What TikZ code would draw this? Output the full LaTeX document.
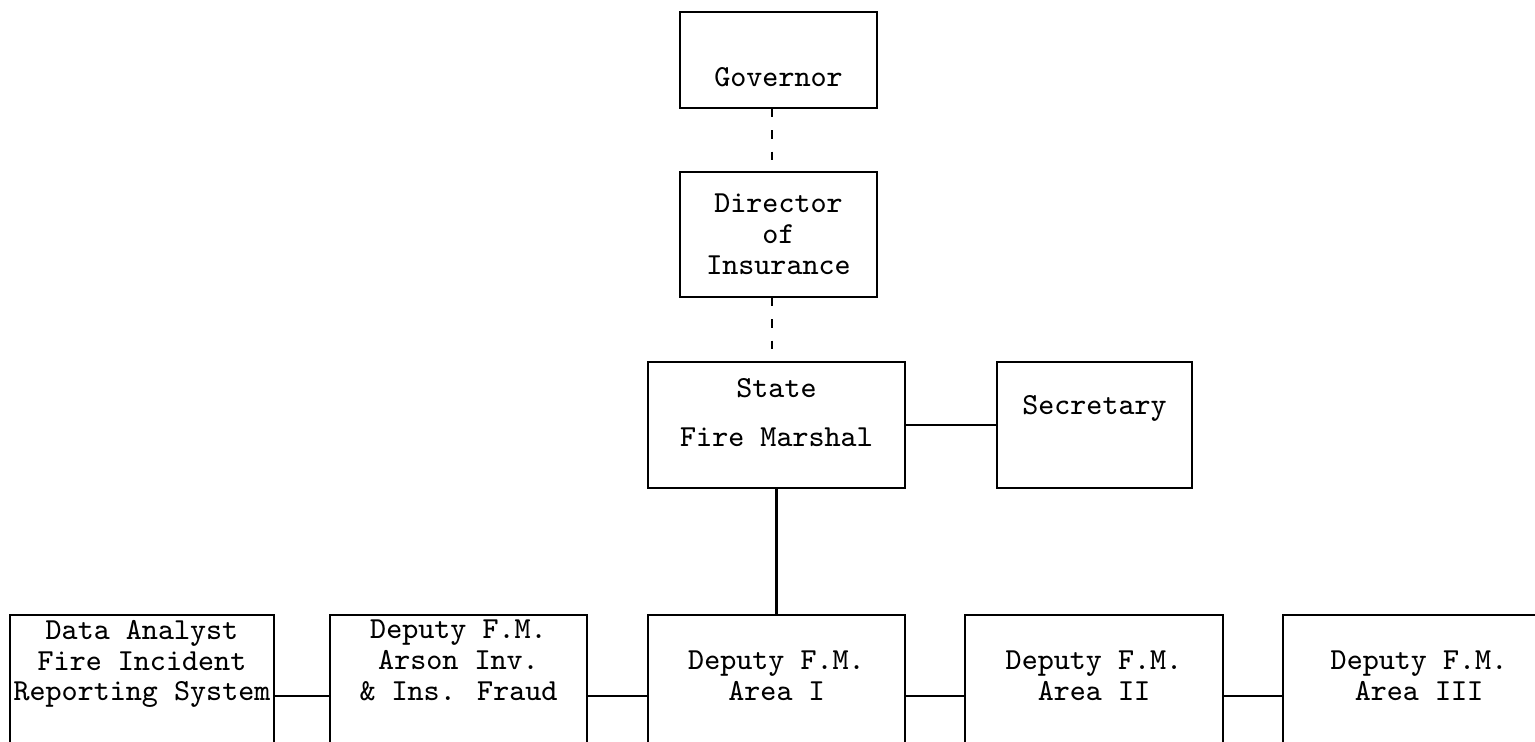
\documentclass[tikz,border=0pt]{standalone}
\usetikzlibrary{positioning}

\begin{document}
\begin{tikzpicture}[
		orgbox/.style = {draw, line width=0.75pt, align=center, inner sep=1pt,
			font=\ttfamily\fontsize{8.7}{8.8}\selectfont},
		rowbox/.style = {orgbox, minimum height=1.62cm},
		link/.style = {line width=0.75pt},
		staff/.style = {line width=0.75pt, dash pattern=on 2.3pt off 3.7pt}
	]
		\useasboundingbox (0,0) rectangle (15.35,-7.41);
		% chain of command
		\node [orgbox, minimum width=1.97cm, minimum height=0.96cm] (gov) at (7.785,-0.60) {\strut\\Governor};
		\node [orgbox, minimum width=1.97cm, minimum height=1.25cm] (dir) at (7.785,-2.345) {Director\\of\\Insurance};
		\node [orgbox, minimum width=2.57cm, minimum height=1.26cm] (sfm) at (7.765,-4.25) {State\\[0.18cm]Fire Marshal\\[-0.16cm]\strut};
		\node [orgbox, minimum width=1.95cm, minimum height=1.26cm] (sec) at (10.945,-4.25) {Secretary\\ \strut};
		% deputies, cut off at the bottom of the page
		\node [rowbox, minimum width=2.64cm] (data) at (1.42,-6.96) {Data Analyst\\Fire Incident\\Reporting System\\ \strut\\ \strut};
		\node [rowbox, minimum width=2.57cm] (arson) at (4.585,-6.96) {Deputy F.M.\\Arson Inv.\\\& Ins. Fraud\\ \strut\\ \strut};
		\node [rowbox, minimum width=2.57cm] (area1) at (7.765,-6.96) {Deputy F.M.\\Area I\\ \strut};
		\node [rowbox, minimum width=2.58cm] (area2) at (10.94,-6.96) {Deputy F.M.\\Area II\\ \strut};
		\node [rowbox, minimum width=2.72cm] (area3) at (14.19,-6.96) {Deputy F.M.\\Area III\\ \strut};
		% connectors
		\draw [staff] ([xshift=-0.065cm]gov.south) -- ([xshift=-0.065cm]dir.north);
		\draw [staff] ([xshift=-0.065cm]dir.south) -- ([xshift=-0.045cm]sfm.north);
		\draw [link] (sfm) -- (sec);
		\draw [link] (sfm) -- (area1);
		\draw [link] (data) -- (arson);
		\draw [link] (arson) -- (area1);
		\draw [link] (area1) -- (area2);
		\draw [link] (area2) -- (area3);
	\end{tikzpicture}
\end{document}
